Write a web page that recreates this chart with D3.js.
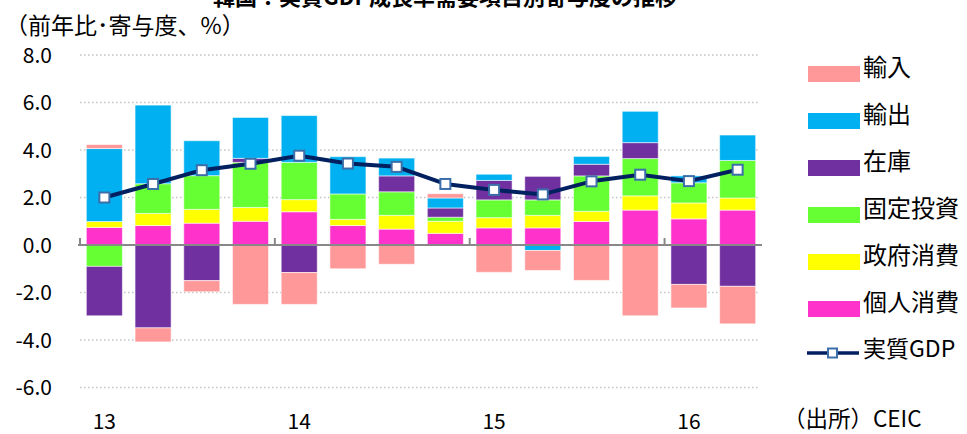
<!DOCTYPE html>
<html><head><meta charset="utf-8">
<script src="https://cdn.jsdelivr.net/npm/d3@7"></script>
<style>
body{margin:0;background:#fff;}
svg{display:block;font-family:"Noto Sans CJK JP","Noto Sans",sans-serif;}
</style></head>
<body><svg id="c" width="967" height="434"></svg>
<script>
const quarters = ["13Q1","13Q2","13Q3","13Q4","14Q1","14Q2","14Q3","14Q4","15Q1","15Q2","15Q3","15Q4","16Q1","16Q2"];
const yearLabels = {"13Q1":"13","14Q1":"14","15Q1":"15","16Q1":"16"};
const consumption = [0.74,0.82,0.92,1.00,1.40,0.82,0.67,0.49,0.72,0.72,0.99,1.47,1.10,1.47];
const government  = [0.25,0.51,0.58,0.58,0.51,0.26,0.58,0.51,0.43,0.53,0.43,0.60,0.67,0.51];
const investment  = [-0.90,1.25,1.42,1.90,1.57,1.07,0.99,0.17,0.75,0.65,1.49,1.57,0.85,1.58];
const inventory   = [-2.08,-3.49,-1.50,0.17,-1.16,0.00,0.67,0.39,0.82,0.99,0.49,0.67,-1.66,-1.74];
const exportsC    = [3.07,3.31,1.47,1.72,1.97,1.57,0.75,0.42,0.26,-0.23,0.33,1.32,0.29,1.07];
const importsC    = [0.17,-0.59,-0.47,-2.50,-1.34,-1.00,-0.81,0.18,-1.15,-0.84,-1.49,-2.98,-0.99,-1.58];
const gdp         = [2.00,2.57,3.15,3.42,3.76,3.43,3.29,2.57,2.32,2.13,2.68,2.96,2.69,3.17];
const yTicks = [-6,-4,-2,0,2,4,6,8];

const seriesDefs = [
  {key:"個人消費", values:consumption, color:"#FF33CC"},
  {key:"政府消費", values:government,  color:"#FFFF00"},
  {key:"固定投資", values:investment,  color:"#66FF33"},
  {key:"在庫",     values:inventory,   color:"#7030A0"},
  {key:"輸出",     values:exportsC,    color:"#00B0F0"},
  {key:"輸入",     values:importsC,    color:"#FF9999"}
];

const table = quarters.map((q,i)=>{
  const o = {q};
  seriesDefs.forEach(s=>o[s.key]=s.values[i]);
  return o;
});

const svg = d3.select("#c");
const x = d3.scaleBand().domain(quarters).range([80,762]).paddingInner(0.26).paddingOuter(0.13);
const y = d3.scaleLinear().domain([-6,8]).range([387.5,55]);

// title (cut off at top, as in the reference)
svg.append("text").attr("x",445).attr("y",5).attr("text-anchor","middle")
  .attr("font-size",22).attr("font-weight","bold").attr("fill","#000")
  .text("韓国：実質GDP成長率需要項目別寄与度の推移");

// y title
svg.append("text").attr("x",5).attr("y",34).attr("font-size",23).attr("fill","#000")
  .text("（前年比･寄与度、%）");

// gridlines
svg.append("g").selectAll("line").data(yTicks.filter(d=>d!==0)).join("line")
  .attr("x1",80).attr("x2",758).attr("y1",d=>y(d)).attr("y2",d=>y(d))
  .attr("stroke","#c4c4c4").attr("stroke-width",1.5).attr("stroke-dasharray","1.5,2.5");

// y tick labels
svg.append("g").selectAll("text").data(yTicks).join("text")
  .attr("x",52).attr("y",d=>y(d)).attr("dy","0.36em").attr("text-anchor","end")
  .attr("font-size",21).attr("fill","#000")
  .text(d=>(d<0?"-":"")+Math.abs(d).toFixed(1));

// stacked bars
const stack = d3.stack().keys(seriesDefs.map(s=>s.key)).offset(d3.stackOffsetDiverging);
const stacked = stack(table);
const colorOf = d3.scaleOrdinal().domain(seriesDefs.map(s=>s.key)).range(seriesDefs.map(s=>s.color));
svg.append("g").selectAll("g").data(stacked).join("g")
  .attr("fill",d=>colorOf(d.key))
  .selectAll("rect").data(d=>d).join("rect")
  .attr("x",d=>x(d.data.q)).attr("width",x.bandwidth())
  .attr("y",d=>y(Math.max(d[0],d[1]))).attr("height",d=>Math.abs(y(d[0])-y(d[1])))
  .attr("stroke","rgba(255,255,255,0.55)").attr("stroke-width",1);

// zero axis line and ticks
svg.append("line").attr("x1",78).attr("x2",762).attr("y1",y(0)).attr("y2",y(0))
  .attr("stroke","#888").attr("stroke-width",2);
const tickQs = quarters.filter((q,i)=>i%4===0);
svg.append("g").selectAll("line").data(tickQs).join("line")
  .attr("x1",d=>x(d)-x.step()*x.paddingInner()/2).attr("x2",d=>x(d)-x.step()*x.paddingInner()/2)
  .attr("y1",y(0)).attr("y2",y(0)-7).attr("stroke","#888").attr("stroke-width",2);

// x labels
svg.append("g").selectAll("text").data(tickQs).join("text")
  .attr("x",d=>x(d)+x.bandwidth()/2).attr("y",421).attr("dy","0.36em").attr("text-anchor","middle")
  .attr("font-size",21).attr("fill","#000").text(d=>yearLabels[d]);

// GDP line
const line = d3.line().x((d,i)=>x(quarters[i])+x.bandwidth()/2).y(d=>y(d));
svg.append("path").datum(gdp).attr("d",line).attr("fill","none")
  .attr("stroke","#002060").attr("stroke-width",4).attr("stroke-linejoin","round");
svg.append("g").selectAll("rect").data(gdp).join("rect")
  .attr("x",(d,i)=>x(quarters[i])+x.bandwidth()/2-5).attr("y",d=>y(d)-5)
  .attr("width",10).attr("height",10).attr("fill","#fff")
  .attr("stroke","#3C6EAA").attr("stroke-width",2);

// legend
const legendItems = seriesDefs.slice().reverse();
const lg = svg.append("g");
legendItems.forEach((s,i)=>{
  const cy = 74 + i*47;
  lg.append("rect").attr("x",808).attr("y",cy-8).attr("width",52).attr("height",16).attr("fill",s.color);
  lg.append("text").attr("x",863).attr("y",cy-7).attr("dy","0.36em").attr("font-size",24).attr("fill","#000").text(s.key);
});
const gy = 74 + 6*47 - 3;
lg.append("line").attr("x1",807).attr("x2",859).attr("y1",gy).attr("y2",gy).attr("stroke","#002060").attr("stroke-width",3.5);
lg.append("rect").attr("x",828).attr("y",gy-4.5).attr("width",9).attr("height",9).attr("fill","#fff").attr("stroke","#3C6EAA").attr("stroke-width",2);
lg.append("text").attr("x",863).attr("y",gy-4).attr("dy","0.36em").attr("font-size",23).attr("fill","#000").text("実質GDP");

svg.append("text").attr("x",783).attr("y",419).attr("dy","0.36em").attr("font-size",22.5).attr("fill","#000").text("（出所）CEIC");
</script></body></html>
